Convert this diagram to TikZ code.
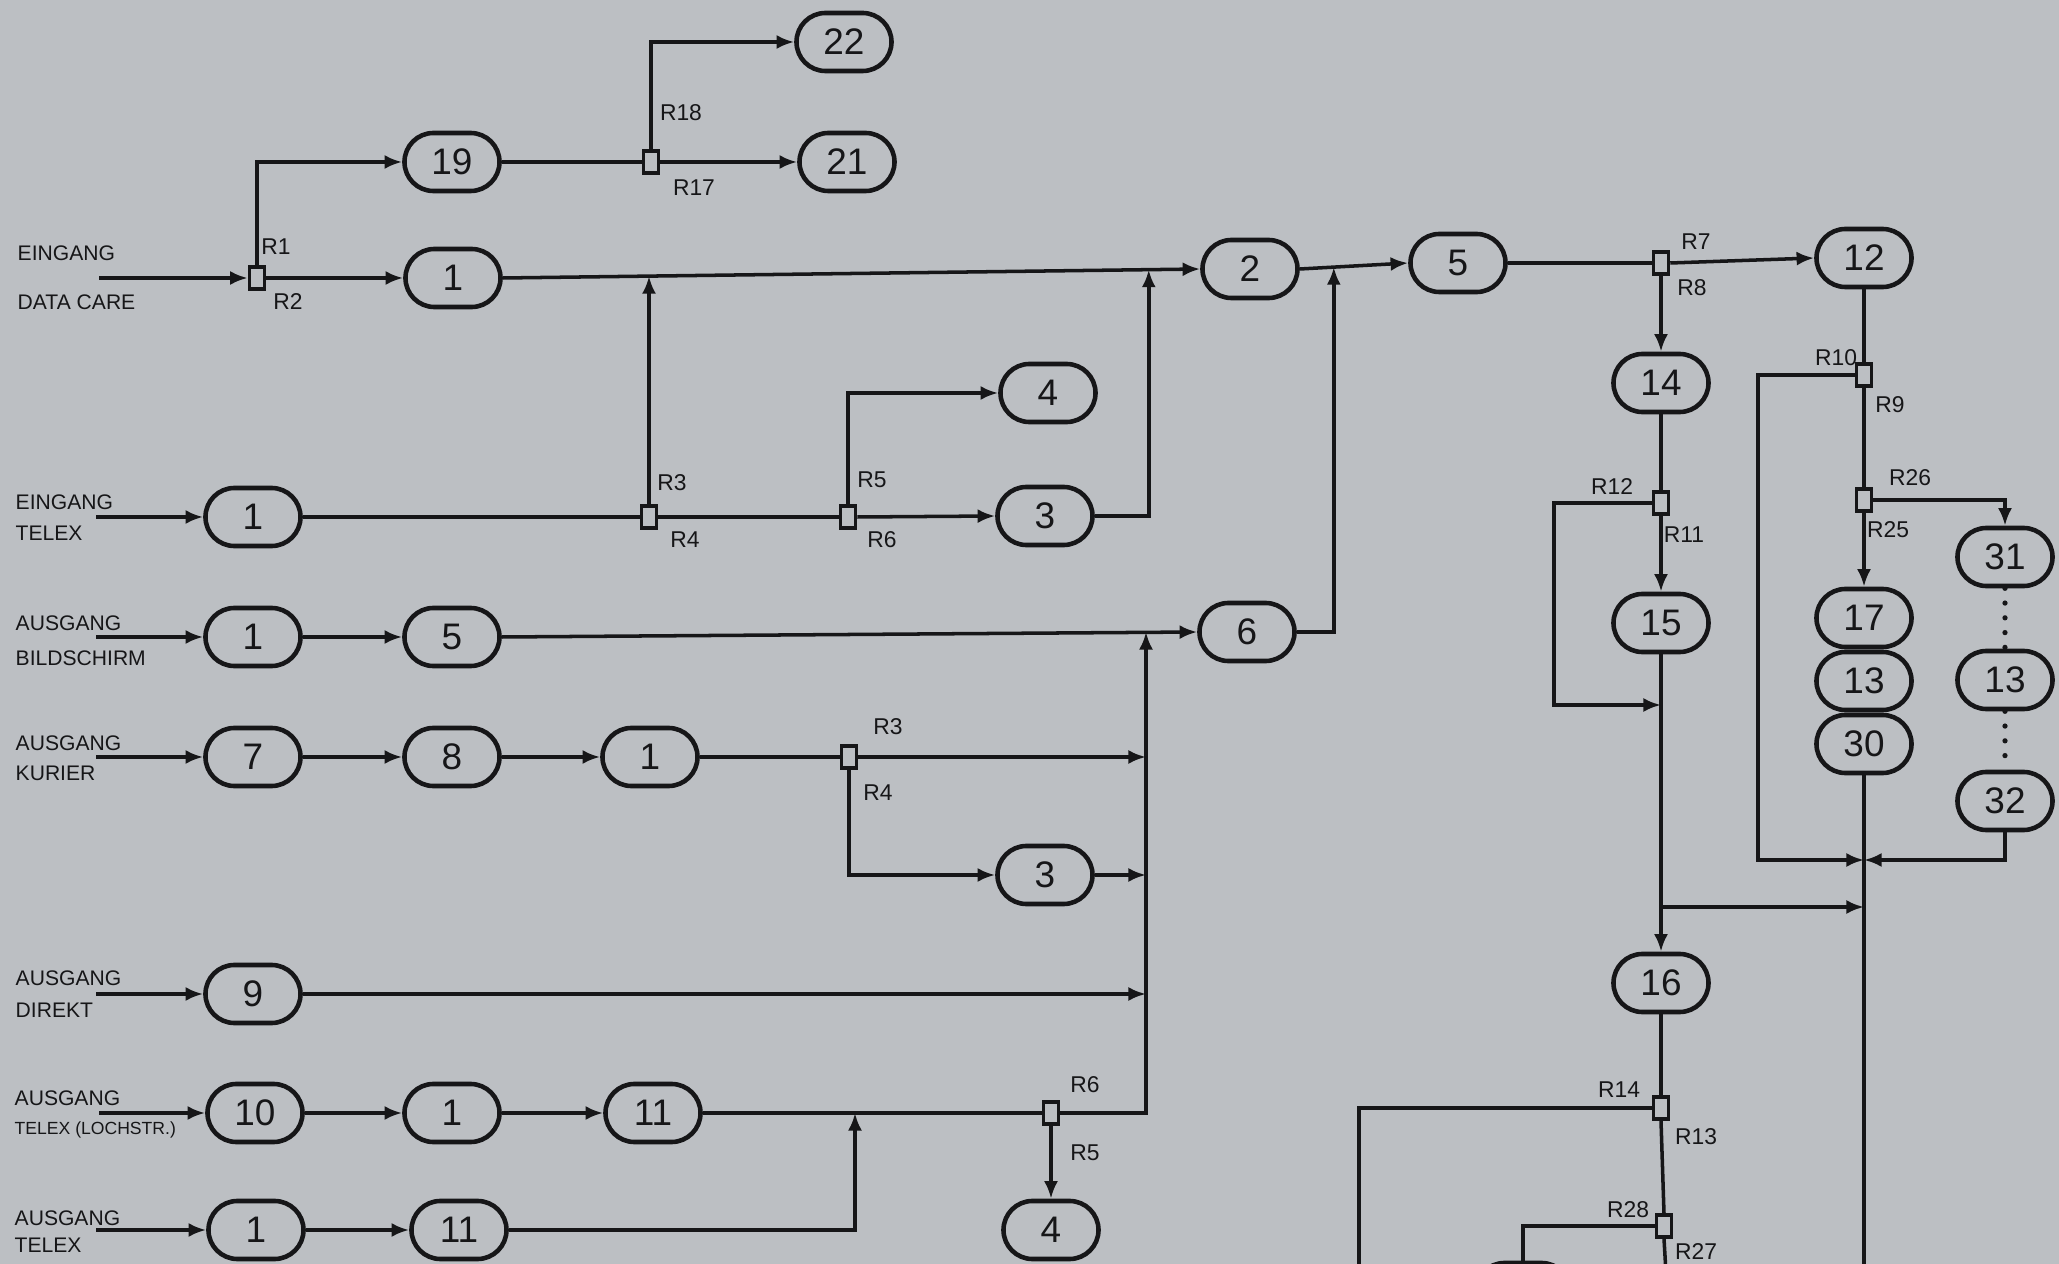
\documentclass[tikz,border=0pt]{standalone}
\usepackage{fontspec}
\setmainfont{Liberation Sans}
\usetikzlibrary{shapes.misc,arrows.meta,calc}
\definecolor{paper}{RGB}{188,191,195}
\definecolor{ink}{RGB}{22,22,24}
\begin{document}
\begin{tikzpicture}[x=0.01cm,y=-0.01cm,
  proc/.style={draw=ink,line width=1.3pt,rounded rectangle,minimum width=0.95cm,minimum height=0.58cm,inner sep=0pt,font=\fontsize{10.5}{12}\selectfont,text=ink},
  jbox/.style={draw=ink,line width=1pt,fill=paper,rectangle,minimum width=0.15cm,minimum height=0.22cm,inner sep=0pt},
  rlab/.style={font=\fontsize{6.5}{7}\selectfont,text=ink,inner sep=0pt},
  inlab/.style={font=\fontsize{6}{7}\selectfont,text=ink,anchor=west,inner sep=0pt},
  conn/.style={draw=ink,line width=1pt},
  arr/.style={conn,-{Latex[length=5pt,width=4pt]}},
  dotline/.style={draw=ink,line width=1.5pt,line cap=round,dash pattern=on 0pt off 4.2pt},
]
\useasboundingbox (0,0) rectangle (2059,1264);
\fill[paper] (0,0) rectangle (2059,1264);
\clip (0,0) rectangle (2059,1264);

% ---------- process nodes ----------
\node[proc] (n22) at (844,42) {22};
\node[proc] (n21) at (847,162) {21};
\node[proc] (n19) at (452,162) {19};
\node[proc] (n1a) at (453,278) {1};
\node[proc] (n2) at (1250,269) {2};
\node[proc] (n5a) at (1458,263) {5};
\node[proc] (n12) at (1864,258) {12};
\node[proc] (n4a) at (1048,393) {4};
\node[proc] (n3a) at (1045,516) {3};
\node[proc] (n1b) at (253,517) {1};
\node[proc] (n1c) at (253,637) {1};
\node[proc] (n5b) at (452,637) {5};
\node[proc] (n6) at (1247,632) {6};
\node[proc] (n7) at (253,757) {7};
\node[proc] (n8) at (452,757) {8};
\node[proc] (n1d) at (650,757) {1};
\node[proc] (n3b) at (1045,875) {3};
\node[proc] (n9) at (253,994) {9};
\node[proc] (n10) at (255,1113) {10};
\node[proc] (n1e) at (452,1113) {1};
\node[proc] (n11a) at (653,1113) {11};
\node[proc] (n4b) at (1051,1230) {4};
\node[proc] (n1f) at (256,1230) {1};
\node[proc] (n11b) at (459,1230) {11};
\node[proc] (n14) at (1661,383) {14};
\node[proc] (n15) at (1661,623) {15};
\node[proc] (n16) at (1661,983) {16};
\node[proc] (n17) at (1864,618) {17};
\node[proc] (n13a) at (1864,681) {13};
\node[proc] (n30) at (1864,744) {30};
\node[proc] (n31) at (2005,557) {31};
\node[proc] (n13b) at (2005,680) {13};
\node[proc] (n32) at (2005,801) {32};
\node[proc] (nbot) at (1523,1292) {};

% ---------- junction boxes ----------
\node[jbox] (sqA) at (651,162) {};
\node[jbox] (sqB) at (257,278) {};
\node[jbox] (sqC) at (1661,263) {};
\node[jbox] (sqD) at (1864,375) {};
\node[jbox] (sqE) at (1864,500) {};
\node[jbox] (sqR12) at (1661,503) {};
\node[jbox] (sqR14) at (1661,1108) {};
\node[jbox] (sqR28) at (1664,1226) {};
\node[jbox] (sqT) at (649,517) {};
\node[jbox] (sqU) at (848,517) {};
\node[jbox] (sqK) at (849,757) {};
\node[jbox] (sqL) at (1051,1113) {};

% ---------- junction labels ----------
\node[rlab] (lR18) at (681,113) {R18};
\node[rlab] (lR17) at (694,188) {R17};
\node[rlab] (lR1) at (276,247) {R1};
\node[rlab] (lR2) at (288,302) {R2};
\node[rlab] (lR7) at (1696,242) {R7};
\node[rlab] (lR8) at (1692,288) {R8};
\node[rlab] (lR10) at (1836,358) {R10};
\node[rlab] (lR9) at (1890,405) {R9};
\node[rlab] (lR26) at (1910,478) {R26};
\node[rlab] (lR25) at (1888,530) {R25};
\node[rlab] (lR12) at (1612,487) {R12};
\node[rlab] (lR11) at (1684,535) {R11};
\node[rlab] (lR14) at (1619,1090) {R14};
\node[rlab] (lR13) at (1696,1137) {R13};
\node[rlab] (lR28) at (1628,1210) {R28};
\node[rlab] (lR27) at (1696,1252) {R27};
\node[rlab] (lR3a) at (672,483) {R3};
\node[rlab] (lR4a) at (685,540) {R4};
\node[rlab] (lR5a) at (872,480) {R5};
\node[rlab] (lR6a) at (882,540) {R6};
\node[rlab] (lR3b) at (888,727) {R3};
\node[rlab] (lR4b) at (878,793) {R4};
\node[rlab] (lR6b) at (1085,1085) {R6};
\node[rlab] (lR5b) at (1085,1153) {R5};

% ---------- input labels ----------
\node[inlab] (tA1) at (17,253) {EINGANG};
\node[inlab] (tA2) at (17,302) {DATA CARE};
\node[inlab] (tB1) at (15,502) {EINGANG};
\node[inlab] (tB2) at (15,533) {TELEX};
\node[inlab] (tC1) at (15,623) {AUSGANG};
\node[inlab] (tC2) at (15,658) {BILDSCHIRM};
\node[inlab] (tD1) at (15,743) {AUSGANG};
\node[inlab] (tD2) at (15,773) {KURIER};
\node[inlab] (tE1) at (15,978) {AUSGANG};
\node[inlab] (tE2) at (15,1010) {DIREKT};
\node[inlab] (tF1) at (14,1098) {AUSGANG};
\node[inlab,font=\fontsize{5}{6}\selectfont] (tF2) at (14,1130) {TELEX (LOCHSTR.)};
\node[inlab] (tG1) at (14,1218) {AUSGANG};
\node[inlab] (tG2) at (14,1245) {TELEX};

% ---------- free ends / merge points ----------
\coordinate (iA) at (99,278);
\coordinate (iB) at (96,517);
\coordinate (iC) at (96,637);
\coordinate (iD) at (96,757);
\coordinate (iE) at (96,994);
\coordinate (iF) at (99,1113);
\coordinate (iG) at (96,1230);
\coordinate (m1) at ($(n1a.east)!(sqT)!(n2.west)$);
\coordinate (m2) at ($(n1a.east)!(1152,516)!(n2.west)$);
\coordinate (m3) at ($(n2.east)!(1354,632)!(n5a.west)$);
\coordinate (m4) at (1661,705);
\coordinate (m5) at (1661,907);
\coordinate (m6) at (1864,907);
\coordinate (m7) at (1864,860);
\coordinate (m8) at (1146,632);
\coordinate (m9) at (1146,757);
\coordinate (m11) at (1146,875);
\coordinate (m12) at (1146,994);
\coordinate (m10) at (855,1113);
\coordinate (bR14) at (1359,1290);
\coordinate (bR28) at (1667,1290);
\coordinate (b30) at (1864,1290);

% ---------- top: data care ----------
\draw[arr] (iA) -- (sqB.west);
\draw[arr] (sqB.north) |- (n19.west);
\draw[arr] (sqB.east) -- (n1a.west);
\draw[conn] (n19.east) -- (sqA.west);
\draw[arr] (sqA.east) -- (n21.west);
\draw[arr] (sqA.north) |- (n22.west);
\draw[arr] (n1a.east) -- (n2.west);
\draw[arr] (n2.east) -- (n5a.west);
\draw[conn] (n5a.east) -- (sqC.west);
\draw[arr] (sqC.east) -- (n12.west);

% ---------- eingang telex ----------
\draw[arr] (iB) -- (n1b.west);
\draw[conn] (n1b.east) -- (sqT.west);
\draw[conn] (sqT.east) -- (sqU.west);
\draw[arr] (sqT.north) -- (sqT.north |- m1);
\draw[arr] (sqU.east) -- (n3a.west);
\draw[arr] (sqU.north) |- (n4a.west);
\draw[arr] (n3a.east) -| (m2);

% ---------- ausgang bildschirm ----------
\draw[arr] (iC) -- (n1c.west);
\draw[arr] (n1c.east) -- (n5b.west);
\draw[arr] (n5b.east) -- (n6.west);
\draw[arr] (n6.east) -| (m3);

% ---------- ausgang kurier ----------
\draw[arr] (iD) -- (n7.west);
\draw[arr] (n7.east) -- (n8.west);
\draw[arr] (n8.east) -- (n1d.west);
\draw[conn] (n1d.east) -- (sqK.west);
\draw[arr] (sqK.east) -- (m9);
\draw[arr] (sqK.south) |- (n3b.west);
\draw[arr] (n3b.east) -- (m11);

% ---------- ausgang direkt ----------
\draw[arr] (iE) -- (n9.west);
\draw[arr] (n9.east) -- (m12);

% ---------- ausgang telex (lochstr.) ----------
\draw[arr] (iF) -- (n10.west);
\draw[arr] (n10.east) -- (n1e.west);
\draw[arr] (n1e.east) -- (n11a.west);
\draw[conn] (n11a.east) -- (sqL.west);
\draw[arr] (sqL.east) -| (m8);
\draw[arr] (sqL.south) -- (n4b.north);

% ---------- ausgang telex ----------
\draw[arr] (iG) -- (n1f.west);
\draw[arr] (n1f.east) -- (n11b.west);
\draw[arr] (n11b.east) -| (m10);

% ---------- right: middle column ----------
\draw[arr] (sqC.south) -- (n14.north);
\draw[conn] (n14.south) -- (sqR12.north);
\draw[arr] (sqR12.south) -- (n15.north);
\draw[arr] (sqR12.west) -- ++(-98,0) |- (m4);
\draw[arr] (n15.south) -- (n16.north);
\draw[arr] (m5) -- (m6);
\draw[conn] (n16.south) -- (sqR14.north);
\draw[conn] (sqR14.south) -- (sqR28.north);
\draw[conn] (sqR28.south) -- (bR28);
\draw[conn] (sqR14.west) -| (bR14);
\draw[conn] (sqR28.west) -| (nbot.north);

% ---------- right: column 12 ----------
\draw[conn] (n12.south) -- (sqD.north);
\draw[conn] (sqD.south) -- (sqE.north);
\draw[arr] (sqE.south) -- (n17.north);
\draw[arr] (sqE.east) -| (n31.north);
\draw[dotline] (n31.south) -- (n13b.north);
\draw[dotline] (n13b.south) -- (n32.north);
\draw[arr] (sqD.west) -- ++(-97,0) |- (m7);
\draw[arr] (n32.south) |- (m7);
\draw[conn] (n30.south) -- (b30);
\end{tikzpicture}
\end{document}
